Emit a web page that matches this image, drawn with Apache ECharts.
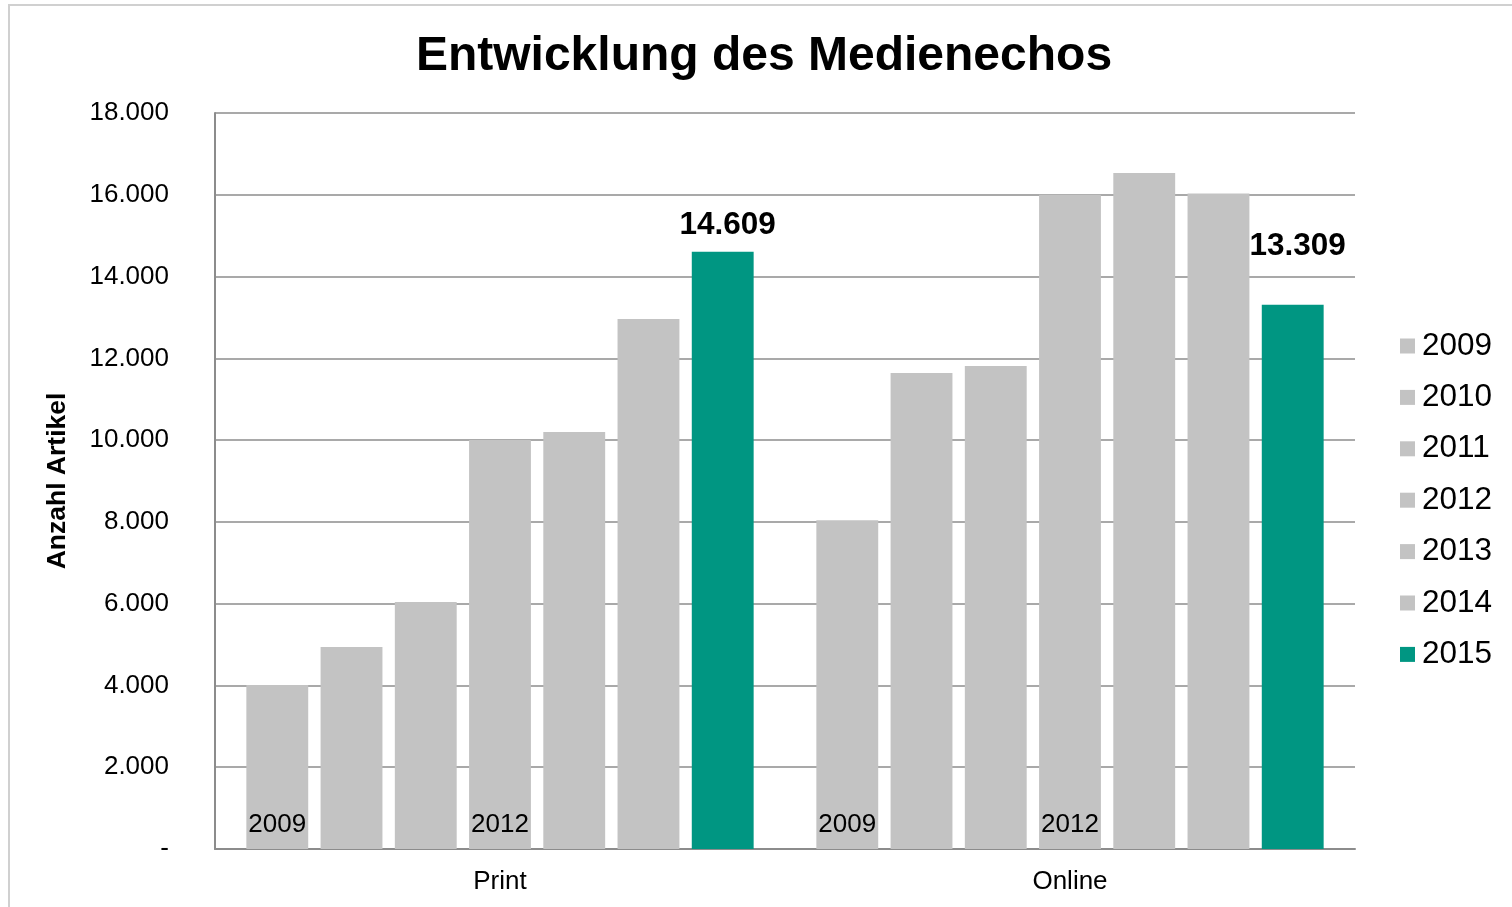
<!DOCTYPE html>
<html>
<head>
<meta charset="utf-8">
<script src="https://cdn.jsdelivr.net/npm/echarts@6/dist/echarts.min.js"></script>
<style>
  html, body { margin: 0; padding: 0; background: #fff; }
  #chart { width: 1512px; height: 907px; }
</style>
</head>
<body>
<div id="chart"></div>
<script>
// categories and per-year values
var categories = ['Print', 'Online']
var years = ['2009', '2010', '2011', '2012', '2013', '2014', '2015']
var values2009 = [4010, 8040]
var values2010 = [4940, 11640]
var values2011 = [6040, 11810]
var values2012 = [10000, 16000]
var values2013 = [10200, 16530]
var values2014 = [12960, 16030]
var values2015 = [14609, 13309]
var yearValues = [values2009, values2010, values2011, values2012, values2013, values2014, values2015]
var yTicks = [0, 2000, 4000, 6000, 8000, 10000, 12000, 14000, 16000, 18000]

var GRAY = '#c3c3c3'
var GREEN = '#009682'
var FONT = 'Liberation Sans'

function fmt(v) {
  if (v === 0) return '-'
  return String(v).replace(/\B(?=(\d{3})+(?!\d))/g, '.')
}

var chart = echarts.init(document.getElementById('chart'))

var series = years.map(function (y, i) {
  var isLast = i === years.length - 1
  var showInside = y === '2009' || y === '2012'
  return {
    name: y,
    type: 'bar',
    barGap: '20%',
    barCategoryGap: '11%',
    itemStyle: { color: isLast ? GREEN : GRAY },
    label: isLast ? {
      show: true,
      position: 'top',
      distance: 10,
      offset: [5, 0],
      fontFamily: FONT,
      fontSize: 31.5,
      fontWeight: 'bold',
      color: '#000',
      formatter: function (p) { return fmt(p.value) }
    } : {
      show: showInside,
      position: 'insideBottom',
      distance: 11,
      fontFamily: FONT,
      fontSize: 26,
      color: '#000',
      formatter: y
    },
    data: yearValues[i].map(function (v, j) {
      if (isLast && j === 1) {
        return { value: v, label: { distance: 42, offset: [5, 0] } }
      }
      return v
    })
  }
})

chart.setOption({
  animation: false,
  textStyle: { fontFamily: FONT },
  graphic: [{
    type: 'rect',
    shape: { x: 9, y: 5, width: 1520, height: 920 },
    style: { fill: 'none', stroke: '#d0d0d0', lineWidth: 2 },
    silent: true
  }],
  title: {
    text: 'Entwicklung des Medienechos',
    left: 759,
    textAlign: 'center',
    top: 28,
    textStyle: { fontFamily: FONT, fontSize: 48, fontWeight: 'bold', color: '#000' }
  },
  legend: {
    orient: 'vertical',
    left: 1395,
    top: 325,
    icon: 'rect',
    itemWidth: 15,
    itemHeight: 15,
    itemGap: 19.4,
    data: years,
    textStyle: { fontFamily: FONT, fontSize: 31.5, color: '#000', padding: [0, 0, 0, 2] }
  },
  grid: { left: 215, right: 157, top: 113, bottom: 58 },
  xAxis: {
    type: 'category',
    data: categories,
    axisLine: { lineStyle: { color: '#8c8c8c', width: 2 } },
    axisTick: { show: false },
    axisLabel: { fontFamily: FONT, fontSize: 26, color: '#000', margin: 20 }
  },
  yAxis: {
    type: 'value',
    min: yTicks[0],
    max: yTicks[yTicks.length - 1],
    interval: 2000,
    name: 'Anzahl Artikel',
    nameLocation: 'middle',
    nameGap: 144,
    nameRotate: 90,
    nameTextStyle: { fontFamily: FONT, fontSize: 26.5, fontWeight: 'bold', color: '#000' },
    axisLine: { show: true, lineStyle: { color: '#8c8c8c', width: 2 } },
    axisTick: { show: false },
    splitLine: { lineStyle: { color: '#8c8c8c', width: 1.5 } },
    axisLabel: {
      fontFamily: FONT,
      fontSize: 26,
      color: '#000',
      margin: 46,
      formatter: function (v) { return fmt(v) }
    }
  },
  series: series
})
</script>
</body>
</html>
